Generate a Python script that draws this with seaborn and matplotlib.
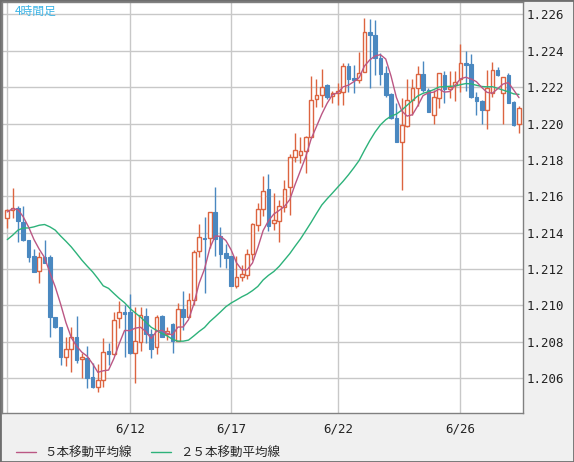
import matplotlib
matplotlib.use('Agg')
import matplotlib.pyplot as plt
from matplotlib.patches import Rectangle
import numpy as np
import pandas as pd
import seaborn as sns

# 4-hour candles (oldest first)
opens = [1.21483, 1.21523, 1.21534, 1.21457, 1.21359, 1.21271, 1.21187, 1.21264, 1.21267, 1.20935,
         1.20880, 1.20719, 1.20759, 1.20827, 1.20708, 1.20710, 1.20607, 1.20554, 1.20589, 1.20750,
         1.20733, 1.20929, 1.20962, 1.20962, 1.20737, 1.20797, 1.20942, 1.20843, 1.20770, 1.20942,
         1.20843, 1.20898, 1.20806, 1.20980, 1.20938, 1.21030, 1.21297, 1.21373, 1.21373, 1.21512,
         1.21383, 1.21291, 1.21270, 1.21106, 1.21156, 1.21169, 1.21285, 1.21445, 1.21528, 1.21639,
         1.21456, 1.21466, 1.21543, 1.21652, 1.21818, 1.21827, 1.21849, 1.21928, 1.22133, 1.22157,
         1.22212, 1.22153, 1.22166, 1.22173, 1.22316, 1.22248, 1.22239, 1.22281, 1.22501, 1.22486,
         1.22358, 1.22276, 1.22160, 1.22029, 1.21900, 1.21986, 1.22129, 1.22193, 1.22272, 1.22184,
         1.22047, 1.22138, 1.22267, 1.22188, 1.22212, 1.22243, 1.22332, 1.22328, 1.22144, 1.22126,
         1.22074, 1.22166, 1.22295, 1.22166, 1.22266, 1.22120, 1.22000]
highs = [1.21532, 1.21644, 1.21547, 1.21547, 1.21362, 1.21313, 1.21295, 1.21359, 1.21278, 1.20938,
         1.20883, 1.20825, 1.20880, 1.20942, 1.20737, 1.20777, 1.20686, 1.20680, 1.20820, 1.20796,
         1.20964, 1.21024, 1.21002, 1.21063, 1.20993, 1.20993, 1.20986, 1.20870, 1.20949, 1.20949,
         1.20883, 1.20902, 1.21015, 1.21077, 1.21066, 1.21304, 1.21446, 1.21488, 1.21515, 1.21653,
         1.21429, 1.21337, 1.21274, 1.21270, 1.21221, 1.21313, 1.21451, 1.21561, 1.21709, 1.21723,
         1.21617, 1.21580, 1.21690, 1.21834, 1.21946, 1.21928, 1.21932, 1.22261, 1.22245, 1.22300,
         1.22217, 1.22181, 1.22225, 1.22331, 1.22331, 1.22322, 1.22395, 1.22578, 1.22574, 1.22569,
         1.22386, 1.22316, 1.22166, 1.22111, 1.22138, 1.22243, 1.22243, 1.22316, 1.22345, 1.22193,
         1.22184, 1.22280, 1.22291, 1.22291, 1.22291, 1.22439, 1.22400, 1.22383, 1.22172, 1.22129,
         1.22295, 1.22337, 1.22313, 1.22258, 1.22280, 1.22126, 1.22096]
lows = [1.21426, 1.21483, 1.21348, 1.21353, 1.21240, 1.21183, 1.21125, 1.21231, 1.20829, 1.20874,
        1.20673, 1.20670, 1.20637, 1.20682, 1.20600, 1.20545, 1.20545, 1.20527, 1.20551, 1.20673,
        1.20730, 1.20874, 1.20716, 1.20735, 1.20573, 1.20751, 1.20796, 1.20710, 1.20732, 1.20825,
        1.20810, 1.20741, 1.20803, 1.20866, 1.20935, 1.21002, 1.21264, 1.21068, 1.21318, 1.21272,
        1.21211, 1.21206, 1.21105, 1.21097, 1.21134, 1.21147, 1.21248, 1.21408, 1.21493, 1.21410,
        1.21414, 1.21350, 1.21512, 1.21500, 1.21787, 1.21785, 1.21726, 1.21924, 1.22093, 1.22089,
        1.22133, 1.22111, 1.22102, 1.22102, 1.22175, 1.22170, 1.22221, 1.22281, 1.22193, 1.22267,
        1.22212, 1.22148, 1.22025, 1.21900, 1.21635, 1.21983, 1.22047, 1.22096, 1.22173, 1.22065,
        1.21997, 1.22083, 1.22111, 1.22138, 1.22126, 1.22175, 1.22181, 1.22140, 1.22046, 1.22000,
        1.21972, 1.22144, 1.22264, 1.21996, 1.22111, 1.21987, 1.21949]
closes = [1.21527, 1.21538, 1.21465, 1.21359, 1.21267, 1.21185, 1.21269, 1.21236, 1.20938, 1.20883,
          1.20715, 1.20759, 1.20825, 1.20701, 1.20715, 1.20604, 1.20554, 1.20589, 1.20743, 1.20735,
          1.20920, 1.20962, 1.20954, 1.20737, 1.20803, 1.20946, 1.20843, 1.20763, 1.20935, 1.20829,
          1.20861, 1.20803, 1.20978, 1.20938, 1.21030, 1.21293, 1.21375, 1.21364, 1.21512, 1.21366,
          1.21283, 1.21261, 1.21106, 1.21158, 1.21171, 1.21285, 1.21447, 1.21528, 1.21629, 1.21438,
          1.21469, 1.21547, 1.21641, 1.21815, 1.21855, 1.21849, 1.21928, 1.22129, 1.22155, 1.22199,
          1.22144, 1.22166, 1.22181, 1.22316, 1.22247, 1.22239, 1.22276, 1.22501, 1.22485, 1.22358,
          1.22272, 1.22157, 1.22029, 1.21900, 1.21990, 1.22129, 1.22193, 1.22272, 1.22184, 1.22065,
          1.22148, 1.22277, 1.22190, 1.22199, 1.22231, 1.22332, 1.22319, 1.22144, 1.22126, 1.22074,
          1.22194, 1.22295, 1.22267, 1.22255, 1.22115, 1.21991, 1.22083]

# moving averages at the left edge (they use bars before the window)
ma5_head = [1.21514, 1.21532, 1.21527, 1.21487]
ma25_head = [1.21362, 1.21386, 1.21414, 1.21426, 1.21426, 1.21432, 1.21441, 1.21445,
             1.21432, 1.21414, 1.21382, 1.21353, 1.21322, 1.21286, 1.21249, 1.21216,
             1.21185, 1.21148, 1.21108, 1.21094, 1.21066, 1.21039, 1.21015, 1.20984]

date_pos = [0, 23, 42, 62, 85]
date_labels = ['', '6/12', '6/17', '6/22', '6/26']
price_ticks = [1.206, 1.208, 1.210, 1.212, 1.214, 1.216, 1.218, 1.220, 1.222, 1.224, 1.226]

df = pd.DataFrame({'open': opens, 'high': highs, 'low': lows, 'close': closes})
df['idx'] = np.arange(len(df))
df['ma5'] = df['close'].rolling(5).mean()
df.loc[:len(ma5_head) - 1, 'ma5'] = ma5_head
df['ma25'] = df['close'].rolling(25).mean()
df.loc[:len(ma25_head) - 1, 'ma25'] = ma25_head

UP = '#dc6440'
DOWN = '#4a88c0'
MA5_C = '#bb5784'
MA25_C = '#2db27a'

sns.set_style('white')
plt.rcParams['font.family'] = ['DejaVu Sans', 'Noto Sans CJK JP']

W, H = 574, 462
fig = plt.figure(figsize=(W / 100, H / 100), dpi=100, facecolor='#f0f0f0')
ax = fig.add_axes([2 / W, (H - 413) / H, 521 / W, 411 / H])
ax.set_facecolor('white')

# wicks
up = df['close'] >= df['open']
ax.vlines(df['idx'][up], df['low'][up], df['high'][up], color=UP, lw=1, zorder=2)
ax.vlines(df['idx'][~up], df['low'][~up], df['high'][~up], color=DOWN, lw=1, zorder=2)
# bodies
ax.bar(df['idx'][up], (df['close'] - df['open'])[up], bottom=df['open'][up], width=0.68,
       color='white', edgecolor=UP, linewidth=1, zorder=3)
ax.bar(df['idx'][~up], (df['open'] - df['close'])[~up], bottom=df['close'][~up], width=0.68,
       color=DOWN, edgecolor=DOWN, linewidth=0.8, zorder=3)

sns.lineplot(data=df, x='idx', y='ma25', color=MA25_C, lw=1, ax=ax, zorder=4, label='２５本移動平均線')
sns.lineplot(data=df, x='idx', y='ma5', color=MA5_C, lw=1, ax=ax, zorder=4, label='５本移動平均線')

ax.set_xlim(-0.99, 96.75)
ax.set_ylim(1.20409, 1.22668)
ax.set_xticks(date_pos)
ax.set_xticklabels(date_labels, fontsize=9, family='DejaVu Sans Mono', color='#222222')
ax.set_yticks(price_ticks)
ax.set_yticklabels([f'{p:.3f}' for p in price_ticks], fontsize=9, family='DejaVu Sans Mono',
                   color='#222222')
ax.yaxis.tick_right()
ax.tick_params(axis='y', length=0, pad=2.5)
ax.tick_params(axis='x', length=0, pad=7)
ax.grid(True, color='#c8c8c8', lw=1)
ax.set_axisbelow(True)
ax.set_xlabel('')
ax.set_ylabel('')
for s in ax.spines.values():
    s.set_color('#808080')
    s.set_linewidth(1)

ax.text(13 / 521, 1 - 3 / 411, '4時間足', transform=ax.transAxes, ha='left', va='top',
        fontsize=8.5, color='#3cb4e6', family=['Noto Sans CJK JP', 'DejaVu Sans'], zorder=6)

handles, labels = ax.get_legend_handles_labels()
ax.get_legend().remove()
fig.legend(handles[::-1], labels[::-1], loc='center left', bbox_to_anchor=(16 / W, 1 - 453 / H),
           ncol=2, frameon=False, borderpad=0, borderaxespad=0, handlelength=1.6,
           handletextpad=0.7, columnspacing=1.5,
           prop={'family': ['Noto Sans CJK JP', 'DejaVu Sans'], 'size': 9})

fig.add_artist(Rectangle((0, 0), 1, 1, transform=fig.transFigure, fill=False,
                         edgecolor='#6e6e6e', lw=2))

fig.savefig('out.png', dpi=100, facecolor=fig.get_facecolor())
